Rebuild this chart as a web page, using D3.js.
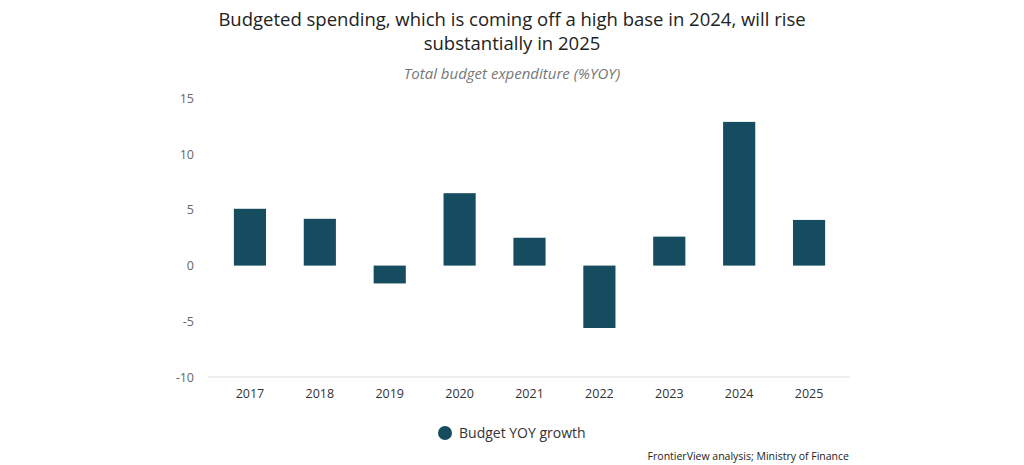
<!DOCTYPE html>
<html><head><meta charset="utf-8">
<script src="https://cdn.jsdelivr.net/npm/d3@7"></script>
<style>body{margin:0;background:#fff;}svg{display:block;font-family:"Open Sans",sans-serif;}</style>
</head><body><svg id="c" width="1024" height="465"></svg>
<script>
const categories = ["2017","2018","2019","2020","2021","2022","2023","2024","2025"];
const budgetYoy = [5.1, 4.2, -1.6, 6.5, 2.5, -5.6, 2.6, 12.9, 4.1];
const yTicks = [-10, -5, 0, 5, 10, 15];
const titleLines = ["Budgeted spending, which is coming off a high base in 2024, will rise", "substantially in 2025"];
const subtitle = "Total budget expenditure (%YOY)";
const seriesName = "Budget YOY growth";
const source = "FrontierView analysis; Ministry of Finance";

const svg = d3.select("#c");
const color = "#154c60";
const x = d3.scaleBand().domain(categories).range([215, 844]).paddingInner(0.54).paddingOuter(0.27);
const y = d3.scaleLinear().domain([-10, 15]).range([377, 98.5]);

svg.append("g").selectAll("text").data(titleLines).join("text")
  .attr("x", 512).attr("y", (d,i)=>26+i*24).attr("text-anchor","middle")
  .attr("font-size", 18.5).attr("fill","#222").text(d=>d);
svg.append("text").attr("x",512).attr("y",79).attr("text-anchor","middle")
  .attr("font-size",15).attr("font-style","italic").attr("fill","#777").text(subtitle);

// y axis
const ya = svg.append("g").attr("transform","translate(194,0)")
  .call(d3.axisLeft(y).tickValues(yTicks).tickFormat(d=>String(d)).tickSize(0).tickPadding(0));
ya.select(".domain").remove();
ya.selectAll("text").attr("font-family","Open Sans").attr("font-size",12.5).attr("fill","#666");

// baseline
svg.append("line").attr("x1",208).attr("x2",850).attr("y1",y(-10)).attr("y2",y(-10))
  .attr("stroke","#ddd").attr("stroke-width",1);

// x axis labels
const xa = svg.append("g").attr("transform",`translate(0,${y(-10)})`)
  .call(d3.axisBottom(x).tickSize(0).tickPadding(12));
xa.select(".domain").remove();
xa.selectAll("text").attr("font-family","Open Sans").attr("font-size",12.5).attr("fill","#333");

// bars
svg.append("g").selectAll("rect").data(categories).join("rect")
  .attr("x", d=>x(d)).attr("width", x.bandwidth())
  .attr("y", (d,i)=>y(Math.max(0,budgetYoy[i])))
  .attr("height", (d,i)=>Math.abs(y(budgetYoy[i])-y(0)))
  .attr("fill", color);

// legend
svg.append("circle").attr("cx",445).attr("cy",433).attr("r",7).attr("fill",color);
svg.append("text").attr("x",459).attr("y",438).attr("font-size",14).attr("fill","#333").text(seriesName);

svg.append("text").attr("x",849).attr("y",460).attr("text-anchor","end")
  .attr("font-size",10.5).attr("fill","#222").text(source);
</script></body></html>
